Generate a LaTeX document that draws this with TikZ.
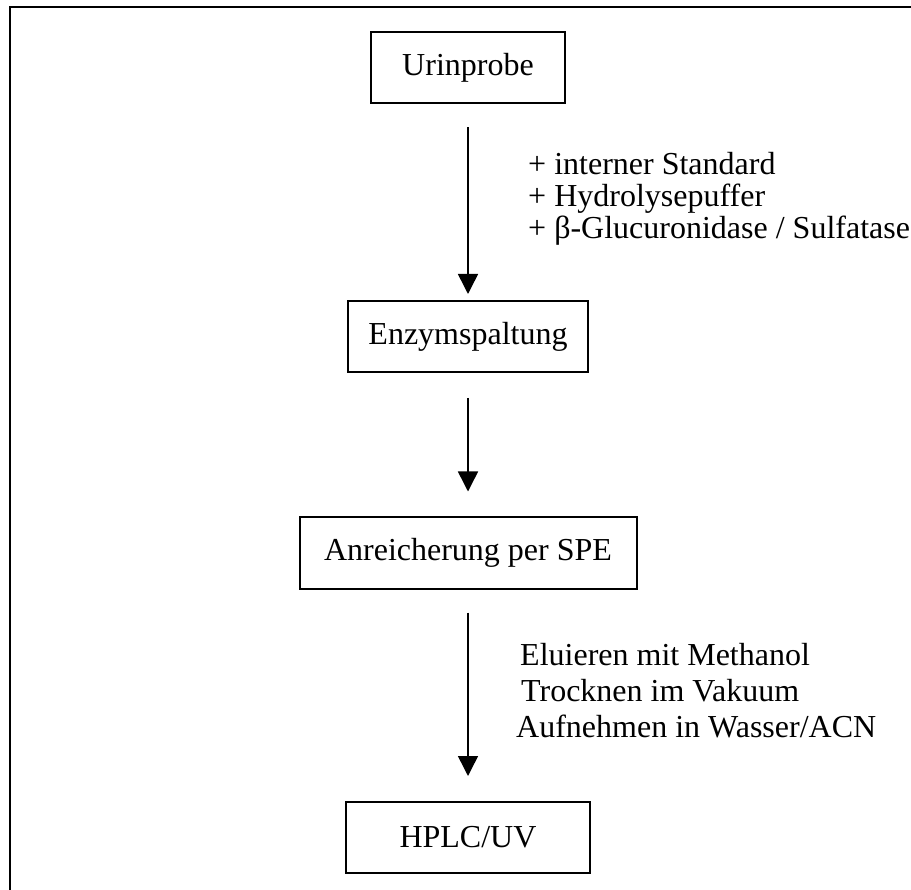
\documentclass[tikz,border=0pt]{standalone}
\usepackage{fontspec}
\setmainfont{Liberation Serif}
\usetikzlibrary{arrows.meta}

\begin{document}
\begin{tikzpicture}[x=1pt, y=-1pt,
    stepbox/.style={draw, line width=2pt, minimum width=#1, minimum height=71pt,
      inner sep=0pt, font=\fontsize{32}{37}\selectfont},
    flow/.style={line width=1.5pt, -{Triangle[length=20pt, width=20pt]}},
    note/.style={anchor=base west, inner sep=0pt, font=\fontsize{32}{37}\selectfont}]
  \useasboundingbox (0,0) rectangle (911,890);
  \clip (0,0) rectangle (911,890);

  % outer frame (runs past the right and bottom edges)
  \draw[line width=2pt] (10,920) -- (10,7) -- (940,7);

  % process steps
  \node[stepbox=194pt] (urin) at (468,68)    {Urinprobe};
  \node[stepbox=240pt] (enz)  at (468,336.5) {Enzymspaltung};
  \node[stepbox=337pt] (spe)  at (468,553)   {Anreicherung per SPE};
  \node[stepbox=244pt] (hplc) at (468,837.5) {HPLC/UV};

  % connectors
  \draw[flow, shorten <=23pt, shorten >=6pt]  (urin.south) -- (enz.north);
  \draw[flow, shorten <=25pt, shorten >=25pt] (enz.south)  -- (spe.north);
  \draw[flow, shorten <=23pt, shorten >=25pt] (spe.south)  -- (hplc.north);

  % reagents added before hydrolysis
  \node[note] (r1) at (528,175) {+ interner Standard};
  \node[note] (r2) at (528,207) {+ Hydrolysepuffer};
  \node[note] (r3) at (528,239) {+ β-Glucuronidase / Sulfatase};

  % elution and reconstitution
  \node[note] (w1) at (520,665) {Eluieren mit Methanol};
  \node[note] (w2) at (521,701) {Trocknen im Vakuum};
  \node[note] (w3) at (516,737) {Aufnehmen in Wasser/ACN};
\end{tikzpicture}
\end{document}
